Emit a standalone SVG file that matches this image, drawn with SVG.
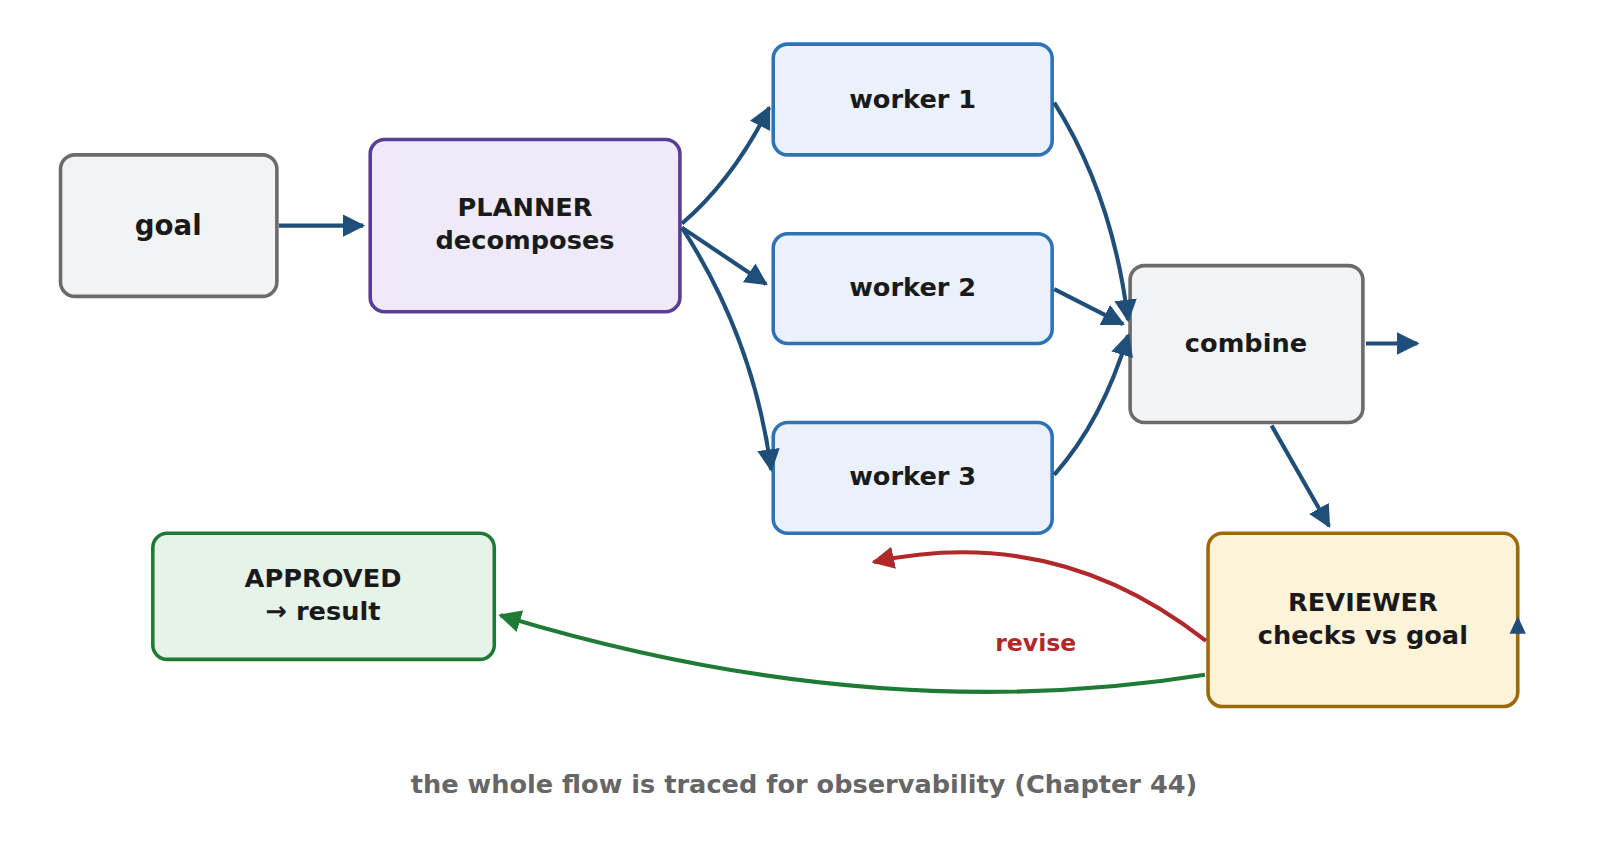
<svg xmlns="http://www.w3.org/2000/svg" width="1607" height="846" viewBox="0 0 1607 846">
<style>
text{font-family:"DejaVu Sans",sans-serif;font-weight:bold;text-anchor:middle;fill:#1a1a1a}
.n{stroke-width:3.5}
.c{fill:none;stroke-width:4;stroke:#1f4e79}
</style>
<defs>
<marker id="a" viewBox="0 0 10 10" refX="9" refY="5" markerWidth="5.5" markerHeight="5.5" markerUnits="strokeWidth" orient="auto"><path d="M0,0L10,5L0,10z" fill="#1f4e79"/></marker>
<marker id="r" viewBox="0 0 10 10" refX="9" refY="5" markerWidth="5.5" markerHeight="5.5" markerUnits="strokeWidth" orient="auto"><path d="M0,0L10,5L0,10z" fill="#b0282a"/></marker>
<marker id="g" viewBox="0 0 10 10" refX="9" refY="5" markerWidth="5.5" markerHeight="5.5" markerUnits="strokeWidth" orient="auto"><path d="M0,0L10,5L0,10z" fill="#1f7a35"/></marker>
</defs>
<rect width="1607" height="846" fill="#fff"/>
<g transform="scale(1.0255)">
<g id="goal"><rect class="n" x="59" y="151" width="211" height="138" rx="14" fill="#f2f3f5" stroke="#6b6b6b"/><text x="164" y="229" font-size="27">goal</text></g>
<g id="planner"><rect class="n" x="361" y="136" width="302" height="168" rx="14" fill="#efeaf8" stroke="#5a3d96"/><text x="512" y="211" font-size="25">PLANNER</text><text x="512" y="243" font-size="25">decomposes</text></g>
<g id="worker1"><rect class="n" x="754" y="43" width="272" height="108" rx="14" fill="#eaf1fb" stroke="#2f72b5"/><text x="890" y="105" font-size="25">worker 1</text></g>
<g id="worker2"><rect class="n" x="754" y="228" width="272" height="107" rx="14" fill="#eaf1fb" stroke="#2f72b5"/><text x="890" y="289" font-size="25">worker 2</text></g>
<g id="worker3"><rect class="n" x="754" y="412" width="272" height="108" rx="14" fill="#eaf1fb" stroke="#2f72b5"/><text x="890" y="473" font-size="25">worker 3</text></g>
<g id="combine"><rect class="n" x="1102" y="259" width="227" height="153" rx="14" fill="#f2f3f5" stroke="#6b6b6b"/><text x="1215" y="343" font-size="25">combine</text></g>
<g id="reviewer"><rect class="n" x="1178" y="520" width="302" height="169" rx="14" fill="#fdf3d9" stroke="#9c6a0a"/><text x="1329" y="596" font-size="25">REVIEWER</text><text x="1329" y="628" font-size="25">checks vs goal</text><path d="M1472,618L1480,601L1488,618z" fill="#1f4e79"/></g>
<g id="approved"><rect class="n" x="149" y="520" width="333" height="123" rx="14" fill="#e6f3e9" stroke="#1f7a35"/><text x="315" y="572" font-size="25">APPROVED</text><text x="315" y="605" font-size="25">→ result</text></g>
<g id="connectors">
<path class="c" marker-end="url(#a)" d="M272,220L354,220"/>
<path class="c" marker-end="url(#a)" d="M665,218Q715,175 750,105"/>
<path class="c" marker-end="url(#a)" d="M665,222L747,277"/>
<path class="c" marker-end="url(#a)" d="M665,222Q735,330 752,458"/>
<path class="c" marker-end="url(#a)" d="M1028,100Q1085,190 1100,312"/>
<path class="c" marker-end="url(#a)" d="M1028,282L1095,316"/>
<path class="c" marker-end="url(#a)" d="M1028,463Q1075,410 1100,327"/>
<path class="c" marker-end="url(#a)" d="M1332,335L1382,335"/>
<path class="c" marker-end="url(#a)" d="M1240,415L1296,513"/>
<path class="c" style="stroke:#b0282a" marker-end="url(#r)" d="M1176,625Q1030,510 852,548"/>
<path class="c" style="stroke:#1f7a35" marker-end="url(#g)" d="M1175,658Q850,710 488,600"/>
<text x="1010" y="635" font-size="23" style="fill:#b0282a">revise</text>
</g>
<text x="784" y="773" font-size="25" style="fill:#666">the whole flow is traced for observability (Chapter 44)</text>
</g>
</svg>
